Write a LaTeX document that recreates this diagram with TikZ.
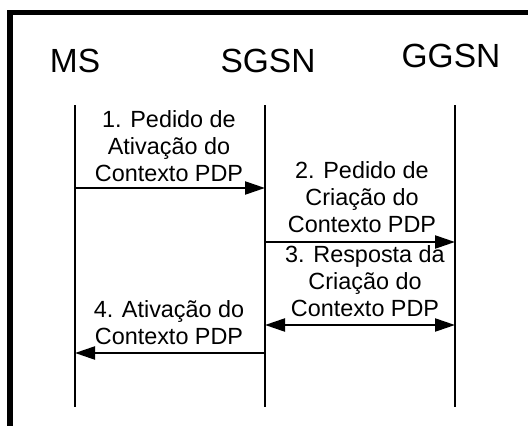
\documentclass[tikz,border=0pt]{standalone}
\usepackage{fontspec}
\setmainfont{Liberation Sans}
\usetikzlibrary{arrows.meta}
\begin{document}
\begin{tikzpicture}[x=1pt,y=-1pt,
  hdr/.style={font=\fontsize{33.5}{40}\selectfont, anchor=base, inner sep=0pt},
  msg/.style={font=\fontsize{23.4}{27}\selectfont, align=center, anchor=south, inner sep=0pt},
  life/.style={line width=1.8pt},
  msgarrow/.style={line width=2.2pt, -{Triangle[length=20pt,width=13pt]}},
  msgboth/.style={line width=2.2pt, {Triangle[length=20pt,width=13pt]}-{Triangle[length=20pt,width=13pt]}},
  frameline/.style={line width=5.5pt}]
\useasboundingbox (0,0) rectangle (528,426);
% frame (top and left edges visible)
\draw[frameline] (10,426) -- (10,12.5) -- (528,12.5);
% headers
\node[hdr] (ms) at (75,72) {MS};
\node[hdr] (sgsn) at (268,72) {SGSN};
\node[hdr] (ggsn) at (451,67) {GGSN};
% lifelines
\coordinate (msT) at (75,105);   \coordinate (msB) at (75,407);
\coordinate (sgT) at (265,105);  \coordinate (sgB) at (265,407);
\coordinate (ggT) at (455,105);  \coordinate (ggB) at (455,407);
\draw[life] (msT) -- (msB);
\draw[life] (sgT) -- (sgB);
\draw[life] (ggT) -- (ggB);
% message end points
\coordinate (a1s) at (75,188);  \coordinate (a1e) at (265,188);
\coordinate (a2s) at (265,242); \coordinate (a2e) at (455,242);
\coordinate (a3s) at (265,325); \coordinate (a3e) at (455,325);
\coordinate (a4s) at (265,353); \coordinate (a4e) at (75,353);
\draw[msgarrow] (a1s) -- (a1e);
\draw[msgarrow] (a2s) -- (a2e);
\draw[msgboth] (a3s) -- (a3e);
\draw[msgarrow] (a4s) -- (a4e);
% labels
\node[msg] (m1) at (169,182) {1. Pedido de\\Ativação do\\Contexto PDP};
\node[msg] (m2) at (362,233) {2. Pedido de\\Criação do\\Contexto PDP};
\node[msg] (m3) at (365,317) {3. Resposta da\\Criação do\\Contexto PDP};
\node[msg] (m4) at (169,345) {4. Ativação do\\Contexto PDP};
\end{tikzpicture}
\end{document}
